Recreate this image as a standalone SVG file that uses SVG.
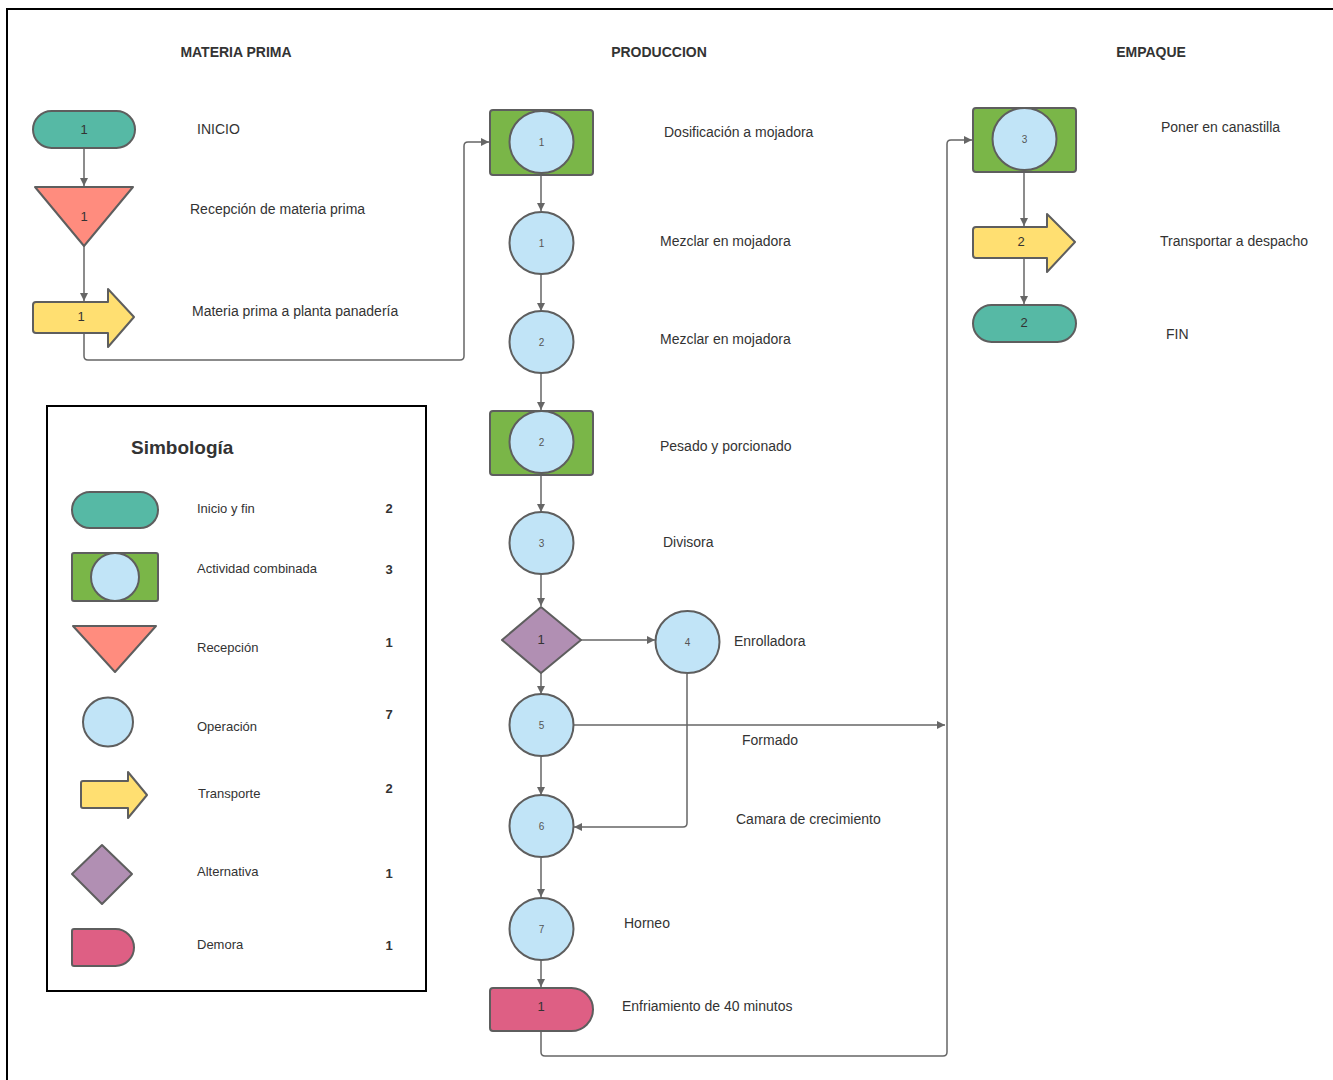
<svg xmlns="http://www.w3.org/2000/svg" width="1333" height="1080" viewBox="0 0 1333 1080">
<defs>
<style>
.bg{fill:#ffffff}
.frame{stroke:#000;stroke-width:2;fill:none}
.term{fill:#56B9A5;stroke:#5E5E5E;stroke-width:2}
.comb{fill:#7AB648;stroke:#5E5E5E;stroke-width:2}
.op{fill:#C1E4F7;stroke:#5E5E5E;stroke-width:2}
.rec{fill:#FF8C7E;stroke:#5E5E5E;stroke-width:2;stroke-linejoin:round}
.tr{fill:#FFDF71;stroke:#5E5E5E;stroke-width:2;stroke-linejoin:round}
.alt{fill:#B18FB3;stroke:#5E5E5E;stroke-width:2;stroke-linejoin:round}
.dem{fill:#DE5F84;stroke:#5E5E5E;stroke-width:2}
.conn{fill:none;stroke:#666666;stroke-width:1.5;stroke-linejoin:round}
.hdr{font-family:"Liberation Sans",Arial,sans-serif;font-size:14px;font-weight:bold;fill:#333}
.lbl{font-family:"Liberation Sans",Arial,sans-serif;font-size:14px;fill:#333}
.num{font-family:"Liberation Sans",Arial,sans-serif;font-size:13px;fill:#333;text-anchor:middle}
.snum{font-family:"Liberation Sans",Arial,sans-serif;font-size:10px;fill:#555;text-anchor:middle}
.leg{font-family:"Liberation Sans",Arial,sans-serif;font-size:13px;fill:#333}
.legn{font-family:"Liberation Sans",Arial,sans-serif;font-size:13px;font-weight:bold;fill:#333;text-anchor:middle}
.title{font-family:"Liberation Sans",Arial,sans-serif;font-size:19px;font-weight:bold;fill:#333}
</style>
<marker id="ah" viewBox="0 0 10 10" refX="10" refY="5" markerWidth="8" markerHeight="8" markerUnits="userSpaceOnUse" orient="auto">
<path d="M0,0 L10,5 L0,10 Z" fill="#666666"/>
</marker>
</defs>
<rect class="bg" x="0" y="0" width="1333" height="1080"/>
<g id="frame">
<line class="frame" x1="7" y1="9" x2="1333" y2="9"/>
<line class="frame" x1="7" y1="8" x2="7" y2="1080"/>
</g>
<g id="headers">
<text class="hdr" x="236" y="57" text-anchor="middle">MATERIA PRIMA</text>
<text class="hdr" x="659" y="57" text-anchor="middle">PRODUCCION</text>
<text class="hdr" x="1151" y="57" text-anchor="middle">EMPAQUE</text>
</g>
<g id="connectors">
<line class="conn" x1="84" y1="148" x2="84" y2="186" marker-end="url(#ah)"/>
<line class="conn" x1="84" y1="246" x2="84" y2="301" marker-end="url(#ah)"/>
<path class="conn" d="M84,333 V356 Q84,360 88,360 H460 Q464,360 464,356 V146 Q464,142 468,142 H489" marker-end="url(#ah)"/>
<line class="conn" x1="541" y1="175" x2="541" y2="211" marker-end="url(#ah)"/>
<line class="conn" x1="541" y1="274" x2="541" y2="311" marker-end="url(#ah)"/>
<line class="conn" x1="541" y1="373" x2="541" y2="410" marker-end="url(#ah)"/>
<line class="conn" x1="541" y1="475" x2="541" y2="512" marker-end="url(#ah)"/>
<line class="conn" x1="541" y1="574" x2="541" y2="606" marker-end="url(#ah)"/>
<line class="conn" x1="581" y1="640" x2="655" y2="640" marker-end="url(#ah)"/>
<line class="conn" x1="541" y1="673" x2="541" y2="694" marker-end="url(#ah)"/>
<path class="conn" d="M687,674 V823 Q687,827 683,827 H574" marker-end="url(#ah)"/>
<line class="conn" x1="573" y1="725" x2="945" y2="725" marker-end="url(#ah)"/>
<line class="conn" x1="541" y1="757" x2="541" y2="795" marker-end="url(#ah)"/>
<line class="conn" x1="541" y1="858" x2="541" y2="897" marker-end="url(#ah)"/>
<line class="conn" x1="541" y1="960" x2="541" y2="987" marker-end="url(#ah)"/>
<path class="conn" d="M541,1031 V1052 Q541,1056 545,1056 H943 Q947,1056 947,1052 V144 Q947,140 951,140 H972" marker-end="url(#ah)"/>
<line class="conn" x1="1024" y1="172" x2="1024" y2="226" marker-end="url(#ah)"/>
<line class="conn" x1="1024" y1="259" x2="1024" y2="304" marker-end="url(#ah)"/>
</g>
<g id="n-inicio">
<rect class="term" x="33" y="111" width="102" height="37" rx="18.5"/>
<text class="num" x="84" y="134">1</text>
<text class="lbl" x="197" y="134">INICIO</text>
</g>
<g id="n-recepcion">
<path class="rec" d="M35,187 H133 L84,246 Z"/>
<text class="num" x="84" y="221">1</text>
<text class="lbl" x="190" y="214">Recepción de materia prima</text>
</g>
<g id="n-transporte1">
<path class="tr" d="M36,302 H108 V289 L134,317 L108,347 V333 H36 Q33,333 33,330 V305 Q33,302 36,302 Z"/>
<text class="num" x="81" y="321">1</text>
<text class="lbl" x="192" y="316">Materia prima a planta panadería</text>
</g>
<g id="n-comb1">
<rect class="comb" x="490" y="110" width="103" height="65" rx="3"/>
<ellipse class="op" cx="541.5" cy="142" rx="32" ry="31"/>
<text class="snum" x="541.5" y="145.5">1</text>
<text class="lbl" x="664" y="137">Dosificación a mojadora</text>
</g>
<g id="n-op1">
<ellipse class="op" cx="541.5" cy="243" rx="32" ry="31"/>
<text class="snum" x="541.5" y="246.5">1</text>
<text class="lbl" x="660" y="246">Mezclar en mojadora</text>
</g>
<g id="n-op2">
<ellipse class="op" cx="541.5" cy="342" rx="32" ry="31"/>
<text class="snum" x="541.5" y="345.5">2</text>
<text class="lbl" x="660" y="344">Mezclar en mojadora</text>
</g>
<g id="n-comb2">
<rect class="comb" x="490" y="411" width="103" height="64" rx="3"/>
<ellipse class="op" cx="541.5" cy="442" rx="32" ry="31"/>
<text class="snum" x="541.5" y="445.5">2</text>
<text class="lbl" x="660" y="451">Pesado y porcionado</text>
</g>
<g id="n-op3">
<ellipse class="op" cx="541.5" cy="543" rx="32" ry="31"/>
<text class="snum" x="541.5" y="546.5">3</text>
<text class="lbl" x="663" y="547">Divisora</text>
</g>
<g id="n-alt">
<path class="alt" d="M541,607 L581,640 L541,673 L502,640 Z"/>
<text class="num" x="541" y="644">1</text>
</g>
<g id="n-op4">
<ellipse class="op" cx="687.5" cy="642" rx="32" ry="31"/>
<text class="snum" x="687.5" y="645.5">4</text>
<text class="lbl" x="734" y="646">Enrolladora</text>
</g>
<g id="n-op5">
<ellipse class="op" cx="541.5" cy="725" rx="32" ry="31"/>
<text class="snum" x="541.5" y="728.5">5</text>
<text class="lbl" x="742" y="745">Formado</text>
</g>
<g id="n-op6">
<ellipse class="op" cx="541.5" cy="826" rx="32" ry="31"/>
<text class="snum" x="541.5" y="829.5">6</text>
<text class="lbl" x="736" y="824">Camara de crecimiento</text>
</g>
<g id="n-op7">
<ellipse class="op" cx="541.5" cy="929" rx="32" ry="31"/>
<text class="snum" x="541.5" y="932.5">7</text>
<text class="lbl" x="624" y="928">Horneo</text>
</g>
<g id="n-demora">
<path class="dem" d="M493,988 H571.5 A21.5,21.5 0 0 1 571.5,1031 H493 Q490,1031 490,1028 V991 Q490,988 493,988 Z"/>
<text class="num" x="541" y="1011">1</text>
<text class="lbl" x="622" y="1011">Enfriamiento de 40 minutos</text>
</g>
<g id="n-comb3">
<rect class="comb" x="973" y="108" width="103" height="64" rx="3"/>
<ellipse class="op" cx="1024.5" cy="139" rx="32" ry="31"/>
<text class="snum" x="1024.5" y="142.5">3</text>
<text class="lbl" x="1161" y="132">Poner en canastilla</text>
</g>
<g id="n-transporte2">
<path class="tr" d="M976,227 H1047 V214 L1075,242 L1047,272 V258 H976 Q973,258 973,255 V230 Q973,227 976,227 Z"/>
<text class="num" x="1021" y="246">2</text>
<text class="lbl" x="1160" y="246">Transportar a despacho</text>
</g>
<g id="n-fin">
<rect class="term" x="973" y="305" width="103" height="37" rx="18.5"/>
<text class="num" x="1024" y="327">2</text>
<text class="lbl" x="1166" y="339">FIN</text>
</g>
<g id="legend">
<rect x="47" y="406" width="379" height="585" fill="#fff" stroke="#000" stroke-width="2"/>
<text class="title" x="131" y="454">Simbología</text>
<rect class="term" x="72" y="492" width="86" height="36" rx="18"/>
<text class="leg" x="197" y="513">Inicio y fin</text>
<text class="legn" x="389" y="513">2</text>
<rect class="comb" x="72" y="553" width="86" height="48" rx="2"/>
<ellipse class="op" cx="115" cy="577" rx="24" ry="24"/>
<text class="leg" x="197" y="573">Actividad combinada</text>
<text class="legn" x="389" y="574">3</text>
<path class="rec" d="M73,626 H156 L115,672 Z"/>
<text class="leg" x="197" y="652">Recepción</text>
<text class="legn" x="389" y="647">1</text>
<ellipse class="op" cx="108" cy="722" rx="25" ry="24.5"/>
<text class="leg" x="197" y="731">Operación</text>
<text class="legn" x="389" y="719">7</text>
<path class="tr" d="M83,781 H128 V772 L147,795 L128,818 V808 H83 Q81,808 81,806 V783 Q81,781 83,781 Z"/>
<text class="leg" x="198" y="798">Transporte</text>
<text class="legn" x="389" y="793">2</text>
<path class="alt" d="M102,845 L132,874 L102,904 L72,874 Z"/>
<text class="leg" x="197" y="876">Alternativa</text>
<text class="legn" x="389" y="878">1</text>
<path class="dem" d="M74,929 H115.5 A18.5,18.5 0 0 1 115.5,966 H74 Q72,966 72,964 V931 Q72,929 74,929 Z"/>
<text class="leg" x="197" y="949">Demora</text>
<text class="legn" x="389" y="950">1</text>
</g>
</svg>
